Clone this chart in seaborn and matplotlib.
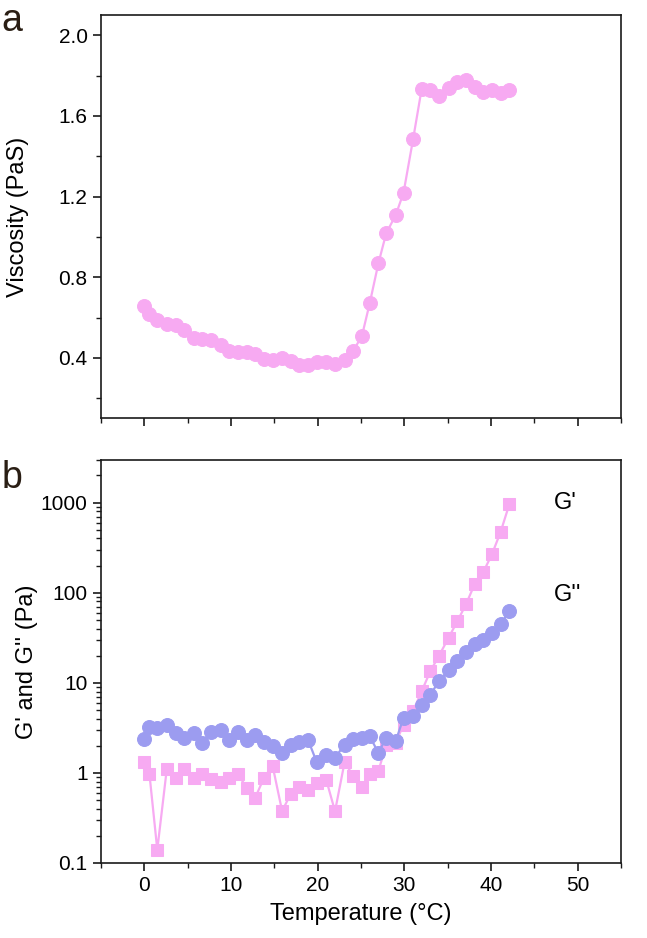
import numpy as np
import pandas as pd
import matplotlib
matplotlib.use("Agg")
import matplotlib.pyplot as plt
import seaborn as sns
from matplotlib.ticker import MultipleLocator, LogLocator, NullFormatter, FixedLocator, FixedFormatter

# Data
temperature = [0.0, 0.6, 1.5, 2.6, 3.7, 4.6, 5.7, 6.6, 7.7, 8.8, 9.8, 10.8, 11.8, 12.8,
               13.8, 14.8, 15.9, 16.9, 17.9, 18.9, 19.9, 21.0, 22.0, 23.1, 24.1, 25.1,
               26.0, 27.0, 27.9, 29.0, 29.9, 31.0, 32.0, 33.0, 34.0, 35.1, 36.1, 37.1,
               38.1, 39.1, 40.1, 41.1, 42.1]
viscosity = [0.655, 0.617, 0.588, 0.567, 0.563, 0.538, 0.497, 0.492, 0.488, 0.463, 0.433,
             0.43, 0.43, 0.42, 0.392, 0.39, 0.397, 0.383, 0.363, 0.363, 0.38, 0.38, 0.368,
             0.39, 0.435, 0.508, 0.67, 0.868, 1.017, 1.108, 1.218, 1.483, 1.735, 1.727,
             1.70, 1.738, 1.767, 1.777, 1.743, 1.72, 1.727, 1.713, 1.727]
g_storage = [1.31, 0.96, 0.14, 1.11, 0.88, 1.09, 0.88, 0.96, 0.86, 0.79, 0.88, 0.98, 0.68,
             0.53, 0.88, 1.2, 0.375, 0.59, 0.70, 0.64, 0.77, 0.83, 0.375, 1.31, 0.93, 0.70,
             0.96, 1.04, 2.06, 2.15, 3.44, 4.84, 8.07, 13.5, 20, 31.6, 48, 74, 124, 169,
             267, 472, 955]
g_loss = [2.39, 3.24, 3.16, 3.36, 2.78, 2.45, 2.78, 2.15, 2.83, 2.98, 2.31, 2.83, 2.31,
          2.6, 2.19, 1.98, 1.67, 2.06, 2.19, 2.31, 1.31, 1.56, 1.47, 2.06, 2.39, 2.45,
          2.55, 1.67, 2.45, 2.25, 4.08, 4.26, 5.74, 7.41, 10.4, 13.8, 17.4, 21.9, 26.7,
          30.2, 35.3, 44.5, 62.5]

pink = "#f7aaf2"
blue = "#9c9cf0"

df = pd.DataFrame({"T": temperature, "visc": viscosity, "Gp": g_storage, "Gpp": g_loss})

sns.set_style("ticks")
plt.rcParams["font.family"] = ["Liberation Sans", "DejaVu Sans"]
plt.rcParams["axes.linewidth"] = 1.2
plt.rcParams["axes.edgecolor"] = "#1a1a1a"
plt.rcParams["text.color"] = "black"
plt.rcParams["axes.labelcolor"] = "black"
plt.rcParams["xtick.color"] = "#1a1a1a"
plt.rcParams["ytick.color"] = "#1a1a1a"
plt.rcParams["xtick.labelcolor"] = "black"
plt.rcParams["ytick.labelcolor"] = "black"

fig = plt.figure(figsize=(6.47, 9.38), dpi=100)
ax1 = fig.add_axes([0.156, 0.554, 0.804, 0.43])
ax2 = fig.add_axes([0.156, 0.080, 0.804, 0.43])

# panel a
sns.lineplot(data=df, x="T", y="visc", ax=ax1, color=pink, lw=1.6, marker="o",
             markersize=10, markeredgecolor=pink)
ax1.set_xlim(-5, 55)
ax1.set_ylim(0.1, 2.1)
ax1.yaxis.set_major_locator(FixedLocator([0.4, 0.8, 1.2, 1.6, 2.0]))
ax1.yaxis.set_minor_locator(FixedLocator([0.2, 0.6, 1.0, 1.4, 1.8]))
ax1.xaxis.set_major_locator(MultipleLocator(10))
ax1.xaxis.set_minor_locator(MultipleLocator(5))
ax1.set_xticklabels([])
ax1.set_xlabel("")
ax1.set_ylabel("Viscosity (PaS)", fontsize=17, labelpad=21)

# panel b
sns.lineplot(data=df, x="T", y="Gp", ax=ax2, color=pink, lw=1.6, marker="s",
             markersize=8, markeredgecolor=pink)
sns.lineplot(data=df, x="T", y="Gpp", ax=ax2, color=blue, lw=1.6, marker="o",
             markersize=10, markeredgecolor=blue)
ax2.set_yscale("log")
ax2.set_xlim(-5, 55)
ax2.set_ylim(0.1, 3000)
ax2.yaxis.set_major_locator(FixedLocator([0.1, 1, 10, 100, 1000]))
ax2.yaxis.set_major_formatter(FixedFormatter(["0.1", "1", "10", "100", "1000"]))
ax2.yaxis.set_minor_locator(LogLocator(base=10, subs=np.arange(2, 10), numticks=20))
ax2.yaxis.set_minor_formatter(NullFormatter())
ax2.xaxis.set_major_locator(MultipleLocator(10))
ax2.xaxis.set_minor_locator(MultipleLocator(5))
ax2.set_xlabel("Temperature (\u00b0C)", fontsize=17, labelpad=6)
ax2.set_ylabel("G' and G'' (Pa)", fontsize=17, labelpad=2)
ax2.text(47.3, 1000, "G'", fontsize=17, va="center")
ax2.text(47.3, 95, "G''", fontsize=17, va="center")

for ax in (ax1, ax2):
    ax.tick_params(which="major", length=6, width=1.2, labelsize=15, direction="out")
    ax.tick_params(which="minor", length=3.5, width=1.0, direction="out")
    for s in ax.spines.values():
        s.set_visible(True)

fig.text(0.002, 0.997, "a", fontsize=27, va="top", ha="left", color="#2a1e14")
fig.text(0.002, 0.510, "b", fontsize=27, va="top", ha="left", color="#2a1e14")

fig.savefig("out.png", dpi=100)
